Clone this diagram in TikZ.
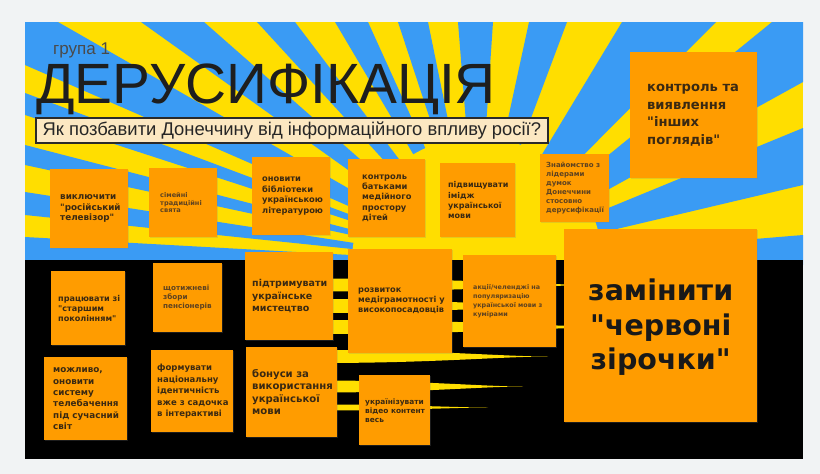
\documentclass[tikz,border=0pt]{standalone}
\usepackage{fontspec}
\setmainfont{Liberation Sans}
\newfontfamily\notefont{DejaVu Sans}
\usetikzlibrary{shadows}
\definecolor{pagebg}{HTML}{F1F3F4}
\definecolor{skyb}{HTML}{3A9BF4}
\definecolor{sunny}{HTML}{FFDE00}
\definecolor{notec}{HTML}{FF9C00}
\definecolor{ink}{HTML}{3A2912}
\definecolor{inklight}{HTML}{5E4220}
\definecolor{titleink}{HTML}{1E1E1E}
\definecolor{grayink}{HTML}{4A4A4A}
\definecolor{qfill}{HTML}{FCE8C2}
\definecolor{qline}{HTML}{2A2A2A}
\newcommand{\glowray}[3]{%
  \pgfmathsetmacro\rayA{320+0.5*(#3-320)}%
  \pgfmathsetmacro\rayB{320+0.8*(#3-320)}%
  \fill[sunny] (320,#1-#2) .. controls (\rayA,#1-#2) and (\rayB,#1) .. (#3,#1)
     .. controls (\rayB,#1) and (\rayA,#1+#2) .. (320,#1+#2) -- cycle;}
\tikzset{
  notebox/.style={fill=notec, anchor=north west, inner sep=0pt,
     drop shadow={shadow xshift=0.7pt, shadow yshift=-0.9pt, opacity=0.22}},
  notetext/.style={anchor=west, inner sep=0pt, align=left, text=ink},
  fs/.style 2 args={font=\notefont\bfseries\fontsize{#1}{#2}\selectfont},
  qbox/.style={draw=qline, line width=1.8pt, fill=qfill, anchor=north west,
     inner xsep=2.5pt, inner ysep=0pt, font=\fontsize{18.4}{20}\selectfont, text=black!85},
}
\begin{document}
\begin{tikzpicture}[x=1pt,y=-1pt]
\useasboundingbox (0,0) rectangle (820,474);
\fill[pagebg] (0,0) rectangle (820,474);
\coordinate (C) at (477,262);
\begin{scope}
\clip (25,22) rectangle (803,459);
\fill[sunny] (25,22) rectangle (803,262);
% blue rays
\fill[skyb] (C) -- (25,237) -- (25,265) -- cycle;
\fill[skyb] (C) -- (25,192) -- (25,215) -- cycle;
\fill[skyb] (C) -- (25,145) -- (25,165) -- cycle;
\fill[skyb] (C) -- (25,93) -- (25,115) -- cycle;
\fill[skyb] (C) -- (25,65) -- (25,22) -- (58,22) -- cycle;
\fill[skyb] (C) -- (141,22) -- (204,22) -- cycle;
\fill[skyb] (C) -- (257,22) -- (295,22) -- cycle;
\fill[skyb] (C) -- (335,22) -- (368,22) -- cycle;
\fill[skyb] (C) -- (398,22) -- (428,22) -- cycle;
\fill[skyb] (C) -- (458,22) -- (493,22) -- cycle;
\fill[skyb] (C) -- (529,22) -- (567,22) -- cycle;
\fill[skyb] (C) -- (622,22) -- (716,22) -- cycle;
\fill[skyb] (C) -- (772,22) -- (803,22) -- (803,82) -- cycle;
\fill[skyb] (C) -- (803,128) -- (803,185) -- cycle;
\fill[skyb] (C) -- (803,235) -- (803,265) -- cycle;
\fill[sunny] (C) circle[radius=125pt];
\fill[black] (25,260) rectangle (803,459);
% reflections
\glowray{285}{6.5}{600}
\glowray{306}{7}{553}
\glowray{327}{7}{620}
\glowray{356.5}{6.5}{548}
\glowray{386.5}{6}{523}
\glowray{407.5}{3}{488}
\end{scope}

% titles
\node[font=\fontsize{17}{20}\selectfont, text=grayink, inner sep=0pt, anchor=base west] (grp) at (53,54.5) {група 1};
\node[font=\fontsize{56.8}{60}\selectfont, text=titleink, inner sep=0pt, anchor=base west] (title) at (36,103) {ДЕРУСИФІКАЦІЯ};
\node[qbox, minimum width=512pt, minimum height=25pt] (q) at (35,117) {Як позбавити Донеччину від інформаційного впливу росії?};

% notes, top row
\node[notebox, minimum width=78pt, minimum height=79pt] (b1) at (50,169) {};
\node[notetext, fs={8.8}{10.7}] (t1) at ([xshift=10pt]b1.west) {виключити\\"російський\\телевізор"};
\node[notebox, minimum width=68pt, minimum height=69pt] (b2) at (149,168) {};
\node[notetext, fs={6.6}{7.8}, text=inklight] (t2) at ([xshift=11pt]b2.west) {сімейні\\традиційні\\свята};
\node[notebox, minimum width=78pt, minimum height=78pt] (b3) at (252,157) {};
\node[notetext, fs={8.3}{10.5}] (t3) at ([xshift=10pt]b3.west) {оновити\\бібліотеки\\українською\\літературою};
\node[notebox, minimum width=77pt, minimum height=78pt] (b4) at (348,159) {};
\node[notetext, fs={8.3}{10.3}] (t4) at ([xshift=14pt]b4.west) {контроль\\батьками\\медійного\\простору\\дітей};
\node[notebox, minimum width=75pt, minimum height=74pt] (b5) at (440,163) {};
\node[notetext, fs={8}{10.3}] (t5) at ([xshift=8pt]b5.west) {підвищувати\\імідж\\української\\мови};
\node[notebox, minimum width=69pt, minimum height=68pt] (b6) at (540,154) {};
\node[notetext, fs={7}{9}, text=inklight] (t6) at ([xshift=6pt]b6.west) {Знайомство з\\лідерами\\думок\\Донеччини\\стосовно\\дерусифікації};
\node[notebox, minimum width=127pt, minimum height=126pt] (b7) at (630,52) {};
\node[notetext, fs={13.1}{17.5}] (t7) at ([xshift=17pt]b7.west) {контроль та\\виявлення\\"інших\\поглядів"};
\node[notebox, minimum width=193pt, minimum height=193pt] (b8) at (564,229) {};
\node[notetext, anchor=center, align=center, fs={28.5}{34.5}, text=black!90] (t8) at ([yshift=-1.5pt]b8.center) {замінити\\"червоні\\зірочки"};

% notes, bottom rows
\node[notebox, minimum width=74pt, minimum height=74pt] (b9) at (51,271) {};
\node[notetext, fs={8.1}{10}] (t9) at ([xshift=7pt]b9.west) {працювати зі\\"старшим\\поколінням"};
\node[notebox, minimum width=69pt, minimum height=69pt] (b10) at (153,263) {};
\node[notetext, fs={7.2}{9}, text=inklight] (t10) at ([xshift=10pt]b10.west) {щотижневі\\збори\\пенсіонерів};
\node[notebox, minimum width=88pt, minimum height=88pt] (b11) at (245,252) {};
\node[notetext, fs={9.5}{12.5}] (t11) at ([xshift=7pt]b11.west) {підтримувати\\українське\\мистецтво};
\node[notebox, minimum width=104pt, minimum height=104pt] (b12) at (348,249) {};
\node[notetext, fs={8.2}{10}] (t12) at ([xshift=10pt]b12.west) {розвиток\\медіграмотності у\\високопосадовців};
\node[notebox, minimum width=93pt, minimum height=92pt] (b13) at (463,255) {};
\node[notetext, fs={6.4}{9}, text=inklight] (t13) at ([xshift=10pt]b13.west) {акції/челенджі на\\популяризацію\\української мови з\\кумірами};
\node[notebox, minimum width=83pt, minimum height=83pt] (b14) at (44,357) {};
\node[notetext, fs={8.8}{11.3}] (t14) at ([xshift=9pt]b14.west) {можливо,\\оновити\\систему\\телебачення\\під сучасний\\світ};
\node[notebox, minimum width=82pt, minimum height=82pt] (b15) at (151,350) {};
\node[notetext, fs={8.5}{11.5}] (t15) at ([xshift=6pt]b15.west) {формувати\\національну\\ідентичність\\вже з садочка\\в інтерактиві};
\node[notebox, minimum width=91pt, minimum height=90pt] (b16) at (246,347) {};
\node[notetext, fs={10.1}{12.3}] (t16) at ([xshift=6pt]b16.west) {бонуси за\\використання\\української\\мови};
\node[notebox, minimum width=71pt, minimum height=70pt] (b17) at (359,375) {};
\node[notetext, fs={7.4}{9}] (t17) at ([xshift=6pt]b17.west) {українізувати\\відео контент\\весь};
\end{tikzpicture}
\end{document}
